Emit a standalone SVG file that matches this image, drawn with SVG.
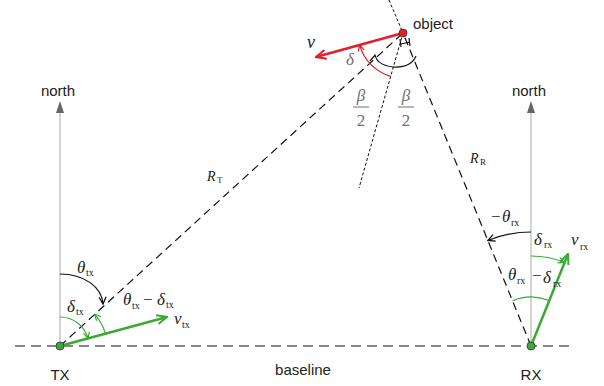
<svg xmlns="http://www.w3.org/2000/svg" width="604" height="386" viewBox="0 0 604 386">
<style>
.sans{font-family:"Liberation Sans",Arial,sans-serif;font-size:15px;fill:#222}
.m{font-family:"Liberation Serif","Times New Roman",serif;font-style:italic;font-size:17px;fill:#222}
.u{font-family:"Liberation Serif","Times New Roman",serif;font-size:17px;fill:#222}
.s{font-family:"Liberation Serif","Times New Roman",serif;font-size:10px;fill:#222}
.g{fill:#707070}
.dash{stroke:#111;stroke-width:1.2;fill:none;stroke-dasharray:8 5}
.dot{stroke:#111;stroke-width:1;fill:none;stroke-dasharray:3 2}
.north{stroke:#aaa;stroke-width:1;fill:none}
.garc{stroke:#3aa935;stroke-width:1.2;fill:none}
.karc{stroke:#111;stroke-width:1.2;fill:none}
.rarc{stroke:#e0202a;stroke-width:1.2;fill:none}
</style>
<defs>
<marker id="nArr" viewBox="0 0 12 8" refX="0" refY="4" markerWidth="12" markerHeight="8" markerUnits="userSpaceOnUse" orient="auto"><path d="M0,0 L12,4 L0,8 z" fill="#666"/></marker>
<marker id="gBig" viewBox="0 0 12 12" refX="11" refY="6" markerWidth="12" markerHeight="12" markerUnits="userSpaceOnUse" orient="auto"><path d="M1,1.5 L11,6 L1,10.5" stroke="#3aa935" stroke-width="2" fill="none"/></marker>
<marker id="rBig" viewBox="0 0 12 12" refX="11" refY="6" markerWidth="12" markerHeight="12" markerUnits="userSpaceOnUse" orient="auto"><path d="M1,1.5 L11,6 L1,10.5" stroke="#e0202a" stroke-width="2" fill="none"/></marker>
<marker id="gS" viewBox="0 0 8 8" refX="7" refY="4" markerWidth="8" markerHeight="8" markerUnits="userSpaceOnUse" orient="auto"><path d="M1,1 L7,4 L1,7" stroke="#3aa935" stroke-width="1.2" fill="none"/></marker>
<marker id="kS" viewBox="0 0 9 9" refX="8" refY="4.5" markerWidth="9" markerHeight="9" markerUnits="userSpaceOnUse" orient="auto"><path d="M1,1 L8,4.5 L1,8" stroke="#111" stroke-width="1.3" fill="none"/></marker>
<marker id="rS" viewBox="0 0 8 8" refX="7" refY="4" markerWidth="8" markerHeight="8" markerUnits="userSpaceOnUse" orient="auto"><path d="M1,1 L7,4 L1,7" stroke="#e0202a" stroke-width="1.2" fill="none"/></marker>
</defs>

<g id="connectors">
<line class="dash" x1="15" y1="346" x2="570" y2="346" style="stroke-dasharray:10 6"/>
<line class="dash" x1="60" y1="346" x2="403" y2="33"/>
<line class="dash" x1="531" y1="346" x2="403" y2="33"/>
<line class="dot" x1="389" y1="0" x2="403" y2="33"/>
<line class="dot" x1="403" y1="33" x2="359" y2="188"/>
<line class="north" x1="60" y1="346" x2="60" y2="113" marker-end="url(#nArr)"/>
<line class="north" x1="531" y1="346" x2="531" y2="113" marker-end="url(#nArr)"/>
<line x1="403" y1="33" x2="316" y2="57" stroke="#e0202a" stroke-width="2.5" marker-end="url(#rBig)"/>
<line x1="60" y1="346" x2="167" y2="317" stroke="#3aa935" stroke-width="2.5" marker-end="url(#gBig)"/>
<line x1="531" y1="346" x2="568" y2="254" stroke="#3aa935" stroke-width="2.5" marker-end="url(#gBig)"/>
<path class="karc" d="M60,274 C84,274 102,287 103,304" marker-end="url(#kS)"/>
<path class="garc" d="M60,317 A29,29 0 0 1 88,338.4" marker-end="url(#gS)"/>
<path class="garc" d="M105.4,333.7 A47,47 0 0 0 94.7,314.3" marker-end="url(#gS)"/>
<path class="karc" d="M531,232 A114,114 0 0 0 487.9,240.5" marker-end="url(#kS)"/>
<path class="garc" d="M531,256 A90,90 0 0 1 564.3,262.4" marker-end="url(#gS)"/>
<path class="garc" d="M512.5,300.7 A49,49 0 0 1 549.1,300.5"/>
<path class="rarc" d="M390.7,76.3 A45,45 0 0 1 359.6,44.8" marker-end="url(#rS)"/>
<path class="karc" d="M370,61 L375,55 Q377,65 393,67 Q411,68 416,56"/>
<path class="karc" d="M400,39 L401,47 M401,44 L410,42 M409,38 L410,46" stroke-width="1"/>
</g>

<g id="object">
<circle cx="403" cy="33" r="4" fill="#e0202a" stroke="#333" stroke-width="0.8"/>
<text class="sans" x="413" y="29">object</text>
</g>
<g id="tx">
<circle cx="60" cy="346" r="4" fill="#3aa935" stroke="#333" stroke-width="0.8"/>
<text class="sans" x="60" y="380" text-anchor="middle">TX</text>
<text class="sans" x="58" y="96" text-anchor="middle">north</text>
</g>
<g id="rx">
<circle cx="531" cy="346" r="4" fill="#3aa935" stroke="#333" stroke-width="0.8"/>
<text class="sans" x="531" y="380" text-anchor="middle">RX</text>
<text class="sans" x="529" y="96" text-anchor="middle">north</text>
</g>
<g id="labels">
<text class="sans" x="303" y="375" text-anchor="middle">baseline</text>
<text class="m" x="307" y="48" style="font-size:18px">v</text>
<text class="m g" x="346" y="65">δ</text>
<text class="m g" x="361" y="101" text-anchor="middle">β</text>
<line x1="353" y1="107" x2="369" y2="107" stroke="#707070" stroke-width="1"/>
<text class="u g" x="361" y="126" text-anchor="middle">2</text>
<text class="m g" x="406" y="101" text-anchor="middle">β</text>
<line x1="398" y1="107" x2="414" y2="107" stroke="#707070" stroke-width="1"/>
<text class="u g" x="406" y="126" text-anchor="middle">2</text>
<text class="m" x="207" y="181" style="font-size:14px">R</text><text class="s" x="217" y="183" style="font-size:9px">T</text>
<text class="m" x="470" y="163" style="font-size:14px">R</text><text class="s" x="480" y="165" style="font-size:9px">R</text>
<text class="m" x="77" y="273">θ</text><text class="s" x="86" y="276">tx</text>
<text class="m" x="67" y="312">δ</text><text class="s" x="76" y="315">tx</text>
<text class="m" x="123" y="305">θ</text><text class="s" x="132" y="309">tx</text>
<text class="u" x="143" y="305">−</text>
<text class="m" x="157" y="305">δ</text><text class="s" x="166" y="308">tx</text>
<text class="m" x="174" y="324">v</text><text class="s" x="182" y="328">tx</text>
<text class="u" x="491" y="222">−</text><text class="m" x="502" y="222">θ</text><text class="s" x="511" y="226">rx</text>
<text class="m" x="534" y="245">δ</text><text class="s" x="544" y="248">rx</text>
<text class="m" x="571" y="245">v</text><text class="s" x="580" y="250">rx</text>
<text class="m" x="508" y="280">θ</text><text class="s" x="517" y="284">rx</text>
<text class="u" x="532" y="281">−</text><text class="m" x="543" y="283">δ</text><text class="s" x="553" y="287">rx</text>
</g>
</svg>
